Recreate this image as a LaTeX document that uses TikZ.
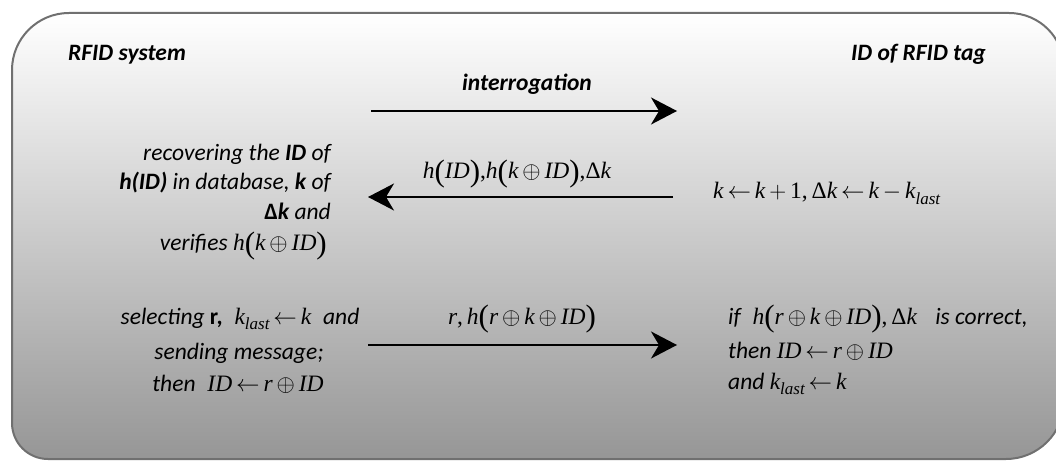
\documentclass[tikz,border=0pt]{standalone}
\usepackage{fix-cm}
\usepackage{fontspec}
\setmainfont{Carlito}
\newfontfamily\tms{Liberation Serif}
\usetikzlibrary{arrows.meta}
\newcommand\mi[1]{{\tms\itshape #1}}
\newcommand\ksub{\mi{k}\raisebox{-5.5pt}{\fontsize{17}{17}\selectfont\tms\itshape last}}
\newcommand\ox{\,$\oplus$\,}
\newcommand\la{\,$\leftarrow$\,}
\newcommand\lp{{\tms\upshape\fontsize{31}{31}\selectfont\raisebox{-2pt}{(}}}
\newcommand\rp{{\tms\upshape\fontsize{31}{31}\selectfont\raisebox{-2pt}{)}}}
\newcommand\dk{{\tms\upshape\symbol{"0394}}\mi{k}}
\newcommand\cm{{\tms\upshape,}}
\begin{document}
\begin{tikzpicture}[x=1pt,y=1pt,
  txt/.style={font=\fontsize{23.5}{28}\selectfont\itshape, inner sep=0pt},
  hdr/.style={font=\fontsize{23.5}{28}\selectfont\bfseries\itshape, inner sep=0pt},
  msg/.style={line width=2pt, -{Stealth[length=26pt,width=27pt,inset=8pt]}},
  frame/.style={draw={rgb,255:red,112;green,112;blue,112}, line width=2pt,
     top color=white, middle color={rgb,255:red,214;green,214;blue,214},
     bottom color={rgb,255:red,150;green,150;blue,150}}]
\useasboundingbox (0,0) rectangle (1056,-462);
\begin{scope}
\clip (0,0) rectangle (1056,-462);
\path[frame] (12,-250) [rounded corners=57pt] -- (12,-13) [rounded corners=55pt] -- (1064,-13) [rounded corners=58pt] -- (1064,-459) [rounded corners=36pt] -- (12,-459) [sharp corners] -- cycle;
\end{scope}

% headers
\node[hdr, anchor=base west] (sys) at (68,-61) {RFID system};
\node[hdr, anchor=base west] (tag) at (851,-61) {ID of RFID tag};
\node[hdr, anchor=base] (intr) at (527,-91) {interrogation};

% message 1
\coordinate (a1s) at (371,-111);
\coordinate (a1e) at (677,-111);
\draw[msg] (a1s) -- (a1e);

% left block 1
\node[txt, anchor=base east] (rec1) at (331,-161) {recovering the \textbf{ID} of};
\node[txt, anchor=base east] (rec2) at (331,-190) {\textbf{h(ID)} in database, \textbf{k} of};
\node[txt, anchor=base east] (rec3) at (331,-219) {\textbf{\upshape Δ\itshape k} and};
\node[txt, anchor=base east] (rec4) at (327,-251) {verifies \mi{h}\lp\mi{k}\ox\mi{ID}\rp};

% message 2
\node[txt, anchor=base] (m2) at (517,-179) {\mi{h}\lp\mi{ID}\rp\cm\mi{h}\lp\mi{k}\ox\mi{ID}\rp\cm\dk};
\coordinate (a2s) at (673,-197);
\coordinate (a2e) at (368,-197);
\draw[msg] (a2s) -- (a2e);

\node[txt, anchor=base west] (upd) at (713,-199)
 {\mi{k}\la\mi{k}\,$+$\,{\tms\upshape 1}\cm\,\dk\la\mi{k}\,$-$\,\ksub};

% left block 3
\node[txt, anchor=base] (sel1) at (240,-324) {selecting \textbf{\upshape r,}\; \ksub\la\mi{k}\; and};
\node[txt, anchor=base] (sel2) at (239,-359) {sending message;};
\node[txt, anchor=base] (sel3) at (238,-391) {then\; \mi{ID}\la\mi{r}\ox\mi{ID}};

% message 3
\node[txt, anchor=base] (m3) at (522,-324) {\mi{r}\cm\,\mi{h}\lp\mi{r}\ox\mi{k}\ox\mi{ID}\rp};
\coordinate (a3s) at (368,-345);
\coordinate (a3e) at (677,-345);
\draw[msg] (a3s) -- (a3e);

% right block 3
\node[txt, anchor=base west] (chk1) at (728,-324) {if\; \mi{h}\lp\mi{r}\ox\mi{k}\ox\mi{ID}\rp\cm\,\dk\;\; is correct,};
\node[txt, anchor=base west] (chk2) at (728,-358) {then \mi{ID}\la\mi{r}\ox\mi{ID}};
\node[txt, anchor=base west] (chk3) at (728,-389) {and \ksub\la\mi{k}};
\end{tikzpicture}
\end{document}
